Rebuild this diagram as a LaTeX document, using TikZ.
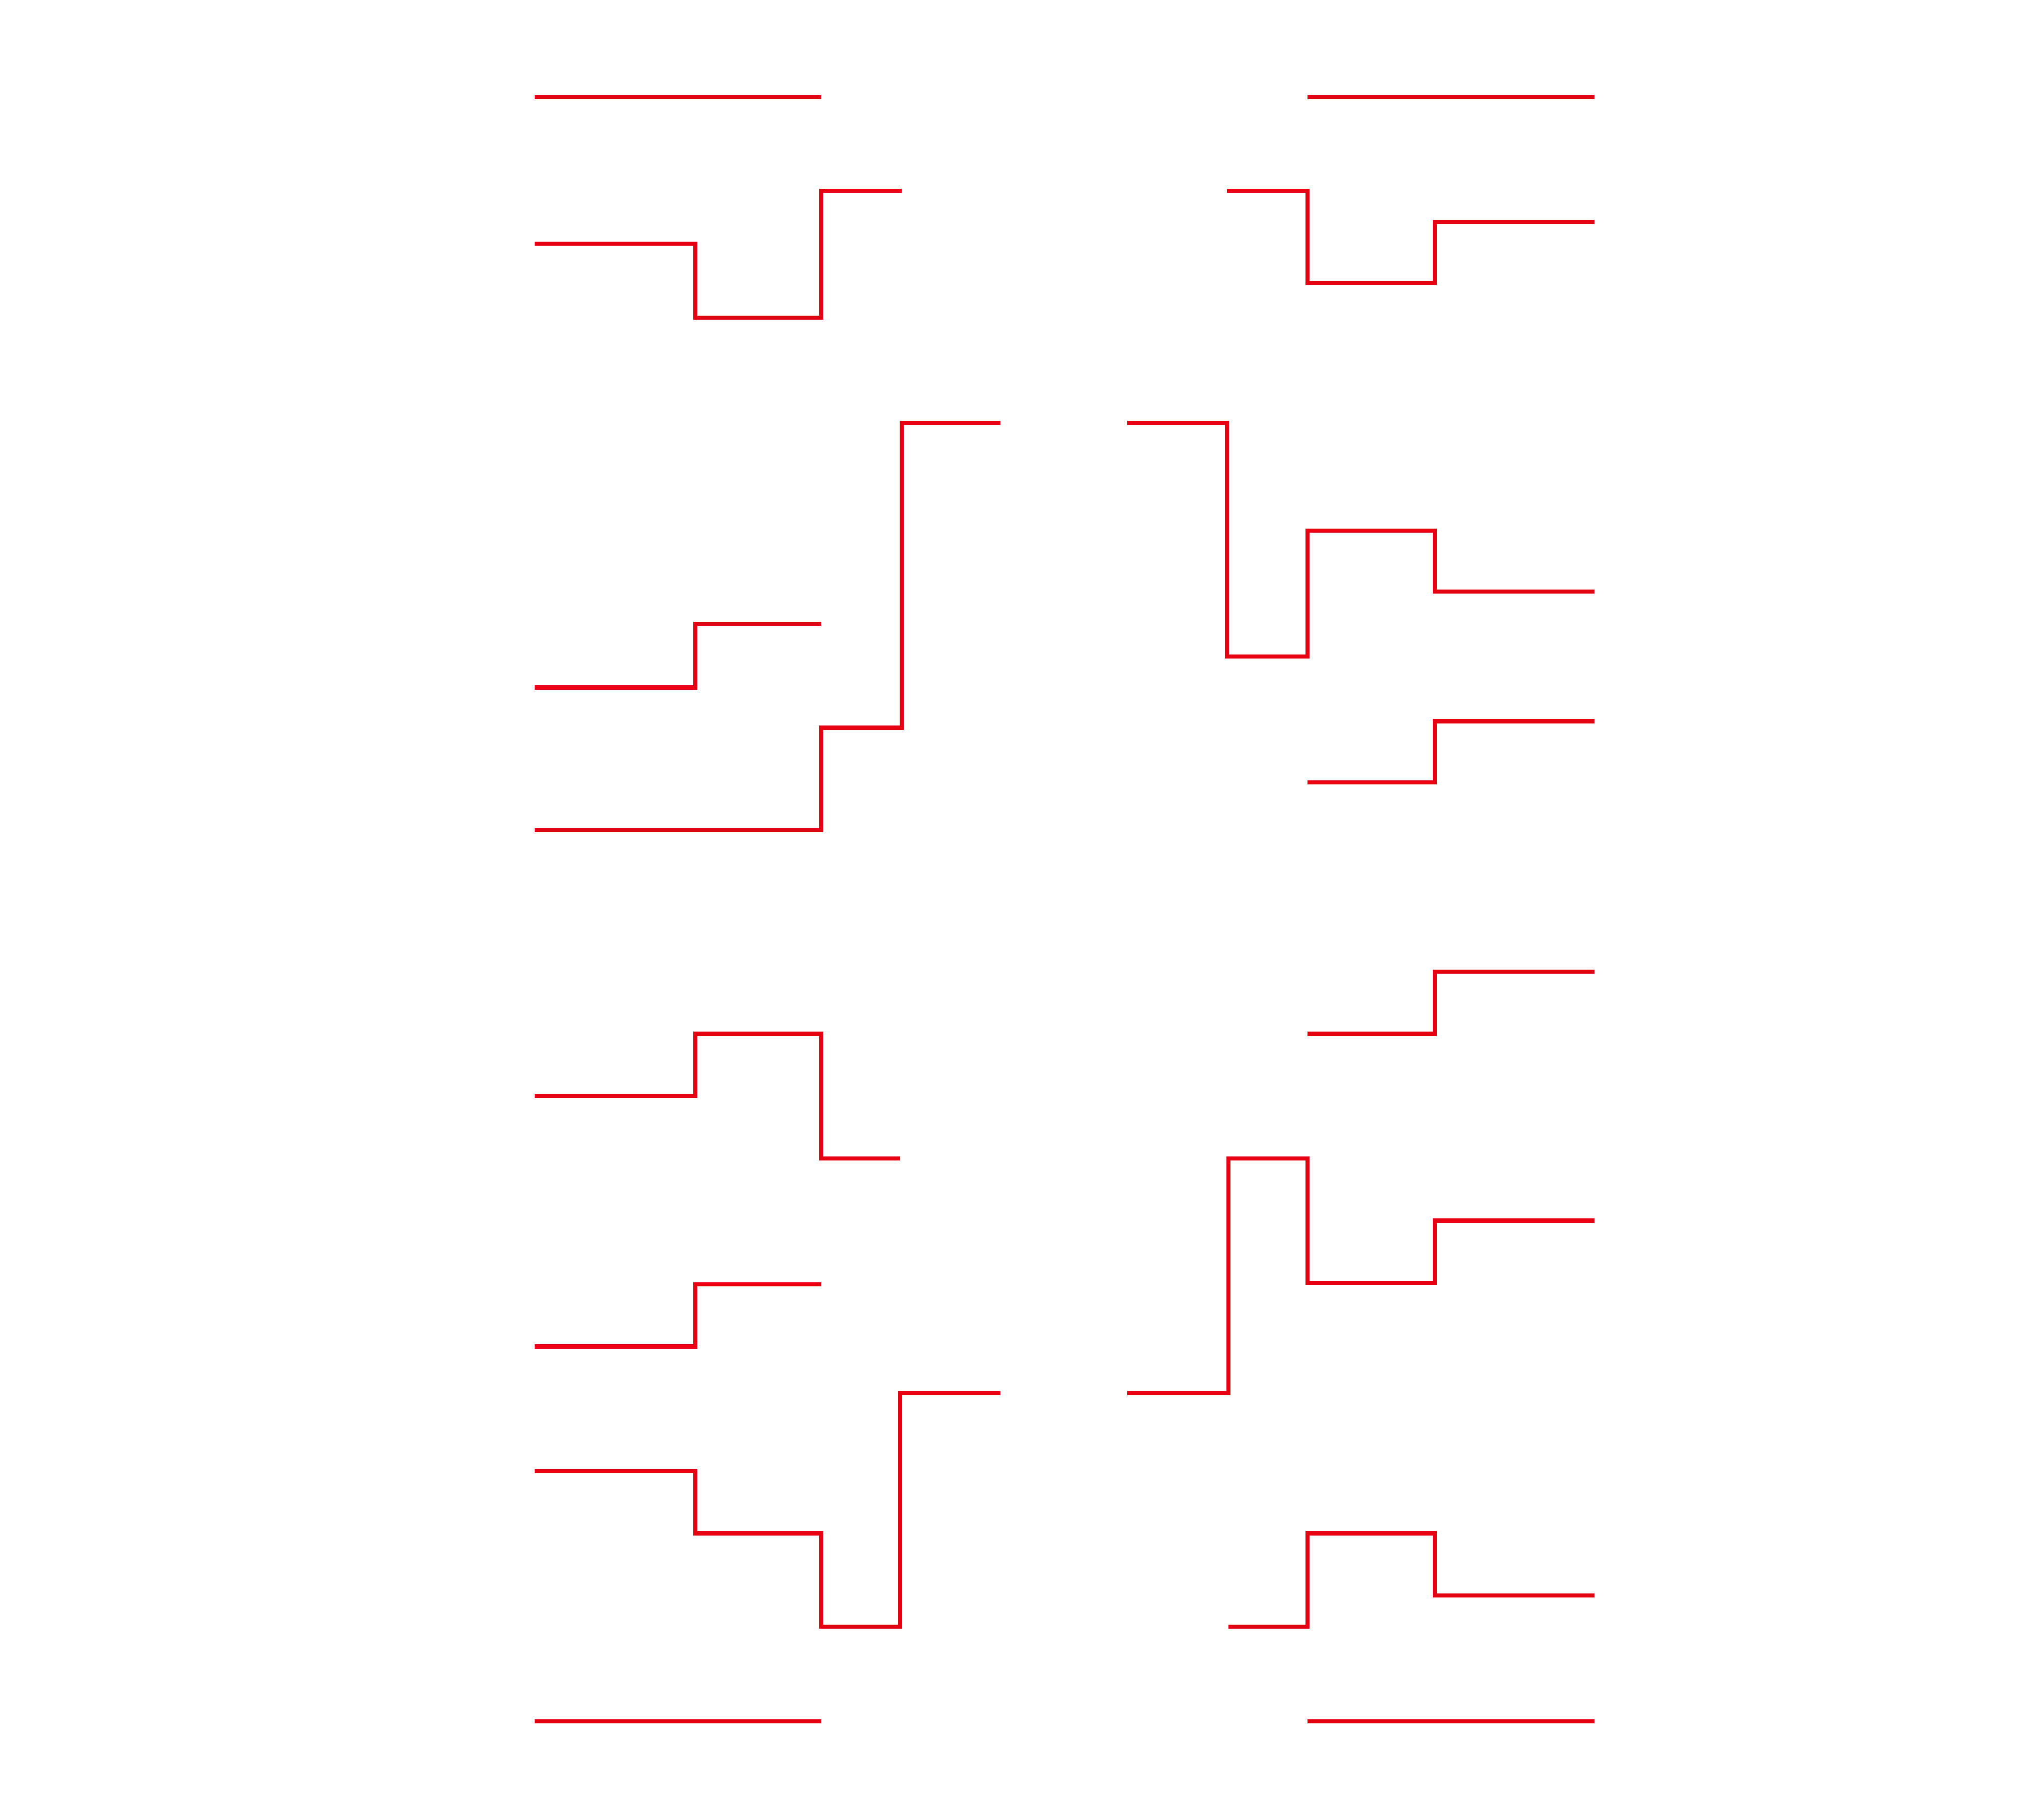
\documentclass[tikz,border=0pt]{standalone}
\definecolor{bracketred}{RGB}{230,0,18}
\begin{document}
\begin{tikzpicture}[x=0.01cm,y=-0.01cm,
  bline/.style={draw=bracketred,line width=0.9pt,line join=miter,line cap=butt}]
\useasboundingbox (0,0) rectangle (1568,1403);
% left side
\draw[bline] (412,75) -- (633,75);
\draw[bline] (412,188) -| (536,245) -| (633,147) -- (695,147);
\draw[bline] (412,530) -| (536,481) -- (633,481);
\draw[bline] (412,640) -| (633,561) -| (695,326) -- (771,326);
\draw[bline] (412,845) -| (536,797) -| (633,893) -- (694,893);
\draw[bline] (412,1038) -| (536,990) -- (633,990);
\draw[bline] (412,1134) -| (536,1182) -| (633,1254) -| (694,1074) -- (771,1074);
\draw[bline] (412,1327) -- (633,1327);
% right side
\draw[bline] (1008,75) -- (1229,75);
\draw[bline] (946,147) -| (1008,218) -| (1106,171) -- (1229,171);
\draw[bline] (869,326) -| (946,506) -| (1008,409) -| (1106,456) -- (1229,456);
\draw[bline] (1008,603) -| (1106,556) -- (1229,556);
\draw[bline] (1008,797) -| (1106,749) -- (1229,749);
\draw[bline] (869,1074) -| (947,893) -| (1008,989) -| (1106,941) -- (1229,941);
\draw[bline] (947,1254) -| (1008,1182) -| (1106,1230) -- (1229,1230);
\draw[bline] (1008,1327) -- (1229,1327);
\end{tikzpicture}
\end{document}
